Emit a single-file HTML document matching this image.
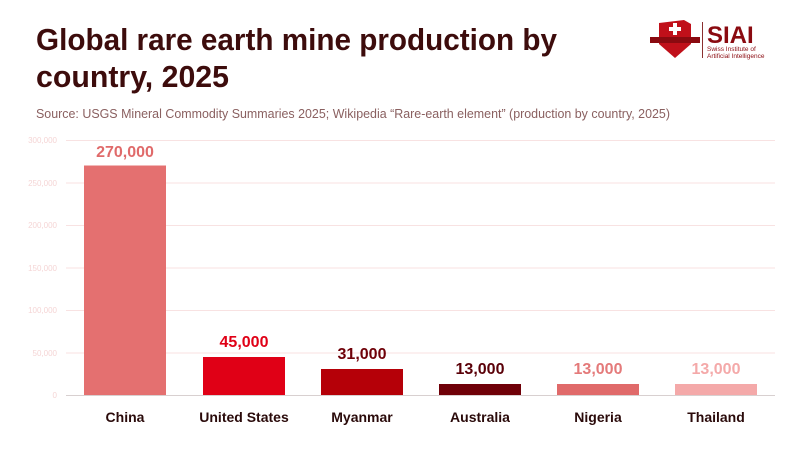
<!DOCTYPE html>
<html><head><meta charset="utf-8"><style>
html,body{margin:0;padding:0;background:#fff;}
svg{display:block;font-family:"Liberation Sans",sans-serif;}
</style></head><body>
<svg width="800" height="450" viewBox="0 0 800 450" xmlns="http://www.w3.org/2000/svg">
<rect width="800" height="450" fill="#fff"/>
<text x="36" y="50" font-size="31" font-weight="bold" fill="#3d0c0c" textLength="521" lengthAdjust="spacingAndGlyphs">Global rare earth mine production by</text>
<text x="36" y="87" font-size="31" font-weight="bold" fill="#3d0c0c" textLength="193" lengthAdjust="spacingAndGlyphs">country, 2025</text>
<text x="36" y="118" font-size="12.5" fill="#8a6060" textLength="634" lengthAdjust="spacingAndGlyphs">Source: USGS Mineral Commodity Summaries 2025; Wikipedia “Rare-earth element” (production by country, 2025)</text>
<!-- logo -->
<g>
<path d="M659 23 L684 20 L691 24 L691 44 L675 58 L659 44 Z" fill="#c0101a"/>
<rect x="650" y="37" width="50" height="6" fill="#8a0a10"/>
<rect x="669" y="27" width="12" height="4" fill="#fff"/><rect x="673" y="23" width="4" height="12" fill="#fff"/>
<rect x="702" y="22" width="1" height="36" fill="#8a3030"/>
<text x="707" y="43" font-size="24" font-weight="bold" fill="#8a0a10">SIAI</text>
<text x="707" y="51" font-size="6.5" fill="#8a0a10">Swiss Institute of</text>
<text x="707" y="58" font-size="6.5" fill="#8a0a10">Artificial Intelligence</text>
</g>
<!-- grid -->
<g stroke="#f8e2e2" stroke-width="1">
<line x1="66" y1="140.5" x2="775" y2="140.5"/>
<line x1="66" y1="183" x2="775" y2="183"/>
<line x1="66" y1="225.5" x2="775" y2="225.5"/>
<line x1="66" y1="268" x2="775" y2="268"/>
<line x1="66" y1="310.5" x2="775" y2="310.5"/>
<line x1="66" y1="353" x2="775" y2="353"/>
</g>
<line x1="66" y1="395.5" x2="775" y2="395.5" stroke="#d8d0d0"/>
<g font-size="8" fill="#f5d5d5" text-anchor="end">
<text x="57" y="143">300,000</text>
<text x="57" y="186">250,000</text>
<text x="57" y="228">200,000</text>
<text x="57" y="271">150,000</text>
<text x="57" y="313">100,000</text>
<text x="57" y="356">50,000</text>
<text x="57" y="398">0</text>
</g>
<rect x="84" y="165.5" width="82" height="229.5" fill="#e47070"/>
<rect x="203" y="357" width="82" height="38" fill="#e00016"/>
<rect x="321" y="369" width="82" height="26" fill="#b50008"/>
<rect x="439" y="384" width="82" height="11" fill="#6f0008"/>
<rect x="557" y="384" width="82" height="11" fill="#e06a6a"/>
<rect x="675" y="384" width="82" height="11" fill="#f4a9a9"/>
<g font-size="16" font-weight="bold" text-anchor="middle">
<text x="125" y="157" fill="#e06a6a">270,000</text>
<text x="244" y="347" fill="#e00016">45,000</text>
<text x="362" y="359" fill="#6f0008">31,000</text>
<text x="480" y="374" fill="#5a0008">13,000</text>
<text x="598" y="374" fill="#e47a7a">13,000</text>
<text x="716" y="374" fill="#f4a9a9">13,000</text>
</g>
<g font-size="14" font-weight="bold" fill="#2a0a0a" text-anchor="middle">
<text x="125" y="422">China</text>
<text x="244" y="422">United States</text>
<text x="362" y="422">Myanmar</text>
<text x="480" y="422">Australia</text>
<text x="598" y="422">Nigeria</text>
<text x="716" y="422">Thailand</text>
</g>
</svg>
</body></html>
